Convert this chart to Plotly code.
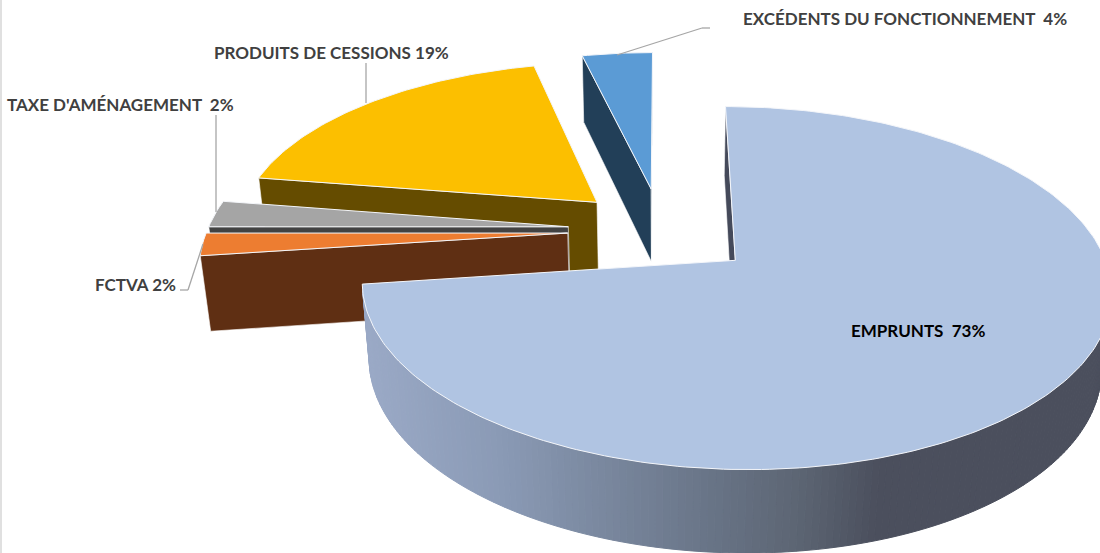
import math
import plotly.graph_objects as go

# pie data, clockwise from 12 o'clock
CATEGORIES = ["EMPRUNTS", "FCTVA", "TAXE D'AMÉNAGEMENT", "PRODUITS DE CESSIONS", "EXCÉDENTS DU FONCTIONNEMENT"]
VALUES = [72.9, 2.1, 2.49, 18.81, 3.7]
LABELS = ["EMPRUNTS\u00a0 73%", "FCTVA 2%", "TAXE D'AMÉNAGEMENT\u00a0 2%", "PRODUITS DE CESSIONS 19%", "EXCÉDENTS DU FONCTIONNEMENT\u00a0 4%"]

PULL = [0.265, 0.26, 0.26, 0.25, 0.255]
TOP_COLORS = ["#b0c4e2", "#ed7d31", "#a5a5a5", "#fcbf00", "#5b9bd5"]
SIDE_COLORS = ["#454a5a", "#5f2f13", "#424242", "#654c00", "#223f58"]
DRAW_ORDER = [4, 3, 2, 1, 0]

# perspective camera fitted on the picture
XV, YH = 661.5, -898.5
K = 0.3195
A, B = 0.000886, 0.000132
M, G = 0.00002, 0.09

RIM_STOPS = [(365, (154, 169, 198)), (500, (138, 154, 181)), (700, (106, 118, 137)),
             (800, (92, 101, 115)), (880, (75, 79, 93)), (1100, (75, 79, 93))]


def project(x, y, z):
    w = A + B * y + M * z
    return XV + K * x / w, YH + (1 + G * z) / w


def area(pts):
    s = 0
    for i in range(len(pts)):
        x1, y1 = pts[i]
        x2, y2 = pts[(i + 1) % len(pts)]
        s += x1 * y2 - x2 * y1
    return s / 2


def rim_color(px):
    px = max(RIM_STOPS[0][0], min(RIM_STOPS[-1][0], px))
    for (x1, c1), (x2, c2) in zip(RIM_STOPS, RIM_STOPS[1:]):
        if px <= x2:
            t = (px - x1) / (x2 - x1)
            return "rgb({},{},{})".format(*[round(a + (b - a) * t) for a, b in zip(c1, c2)])


fig = go.Figure()


def add_poly(pts, fill, line=None, width=1, name=None):
    xs = [p[0] for p in pts] + [pts[0][0]]
    ys = [p[1] for p in pts] + [pts[0][1]]
    fig.add_trace(go.Scatter(
        x=xs, y=ys, mode="lines", fill="toself", fillcolor=fill,
        line=dict(color=line or fill, width=width),
        name=name or "", hoverinfo="skip" if name is None else "name", showlegend=False,
    ))


total = sum(VALUES)
starts = []
run = 0
for v in VALUES:
    starts.append(run)
    run += 360 * v / total

for i in DRAW_ORDER:
    t0 = starts[i]
    t1 = t0 + 360 * VALUES[i] / total
    mid = math.radians((t0 + t1) / 2)
    ax, ay = PULL[i] * math.sin(mid), PULL[i] * math.cos(mid)

    steps = max(4, int(t1 - t0))
    angles = [math.radians(t0 + (t1 - t0) * s / steps) for s in range(steps + 1)]
    outer = [(ax + math.sin(t), ay + math.cos(t)) for t in angles]

    # radial faces
    for (ox, oy), flip in ((outer[0], False), (outer[-1], True)):
        quad = [project(ax, ay, 0), project(ox, oy, 0), project(ox, oy, 1), project(ax, ay, 1)]
        if flip:
            quad = [quad[1], quad[0], quad[3], quad[2]]
        if area(quad) < 0:
            add_poly(quad, SIDE_COLORS[i], line="#ffffff", width=0.6)

    # rim, one small quad per step so the shading can change along it
    for s in range(steps):
        (x1, y1), (x2, y2) = outer[s], outer[s + 1]
        quad = [project(x1, y1, 0), project(x2, y2, 0), project(x2, y2, 1), project(x1, y1, 1)]
        if area(quad) < 0:
            c = rim_color((quad[0][0] + quad[1][0]) / 2) if i == 0 else SIDE_COLORS[i]
            add_poly(quad, c)

    # top
    top = [project(ax, ay, 0)] + [project(x, y, 0) for x, y in outer]
    add_poly(top, TOP_COLORS[i], line="#f4f6fa", width=1, name=CATEGORIES[i])

# grey rule down the left edge of the picture
fig.add_shape(type="rect", x0=0, x1=2, y0=0, y1=553, fillcolor="#e0e0e0", line_width=0, layer="above")

LEADERS = [
    [(366, 63), (366, 103)],
    [(216, 115), (216, 212)],
    [(180, 290), (188, 290), (203, 244)],
    [(710, 28), (702, 28), (617, 55)],
]
for pts in LEADERS:
    for (x0, y0), (x1, y1) in zip(pts, pts[1:]):
        fig.add_shape(type="line", x0=x0, y0=y0, x1=x1, y1=y1, line=dict(color="#a6a6a6", width=1.3))

LABEL_POS = [(849, 330, "#000000"), (93, 284, "#404040"), (5, 104, "#404040"), (212, 52, "#404040"), (741, 18, "#404040")]
for text, (x, y, color) in zip(LABELS, LABEL_POS):
    fig.add_annotation(x=x, y=y, text="<b>" + text + "</b>", showarrow=False, xanchor="left", yanchor="middle",
                       font=dict(family="Lato", size=17, color=color))

fig.update_layout(
    width=1100, height=553, margin=dict(l=0, r=0, t=0, b=0),
    paper_bgcolor="#ffffff", plot_bgcolor="#ffffff", showlegend=False,
    xaxis=dict(range=[0, 1100], visible=False, fixedrange=True),
    yaxis=dict(range=[553, 0], visible=False, fixedrange=True),
)
# the browser's default body margin would push the chart 8px in
fig.write_html("out.html", config=dict(displayModeBar=False),
               post_script="document.body.style.margin='0';document.body.style.overflow='hidden';")
